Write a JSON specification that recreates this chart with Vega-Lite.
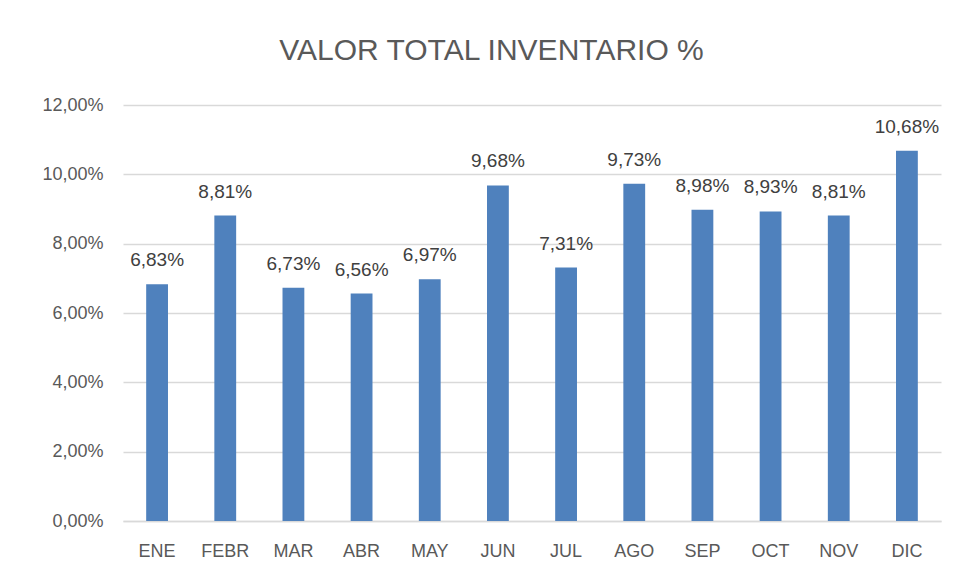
{
  "$schema": "https://vega.github.io/schema/vega-lite/v6.json",
  "width": 818,
  "height": 416,
  "autosize": "none",
  "padding": {"left": 123, "top": 105, "right": 22, "bottom": 57},
  "background": "white",
  "title": {
    "text": "VALOR TOTAL INVENTARIO %",
    "font": "Liberation Sans",
    "fontSize": 30,
    "fontWeight": "normal",
    "color": "#595959",
    "anchor": "middle",
    "frame": "bounds",
    "offset": 30
  },
  "data": {
    "values": [
      {"mes": "ENE", "valor": 0.0683},
      {"mes": "FEBR", "valor": 0.0881},
      {"mes": "MAR", "valor": 0.0673},
      {"mes": "ABR", "valor": 0.0656},
      {"mes": "MAY", "valor": 0.0697},
      {"mes": "JUN", "valor": 0.0968},
      {"mes": "JUL", "valor": 0.0731},
      {"mes": "AGO", "valor": 0.0973},
      {"mes": "SEP", "valor": 0.0898},
      {"mes": "OCT", "valor": 0.0893},
      {"mes": "NOV", "valor": 0.0881},
      {"mes": "DIC", "valor": 0.1068}
    ]
  },
  "encoding": {
    "x": {
      "field": "mes",
      "type": "nominal",
      "sort": null,
      "title": null,
      "scale": {"paddingInner": 0.68, "paddingOuter": 0.34},
      "axis": {
        "labelAngle": 0,
        "labelFont": "Liberation Sans",
        "labelFontSize": 18,
        "labelColor": "#595959",
        "labelPadding": 21,
        "ticks": false,
        "domainColor": "#D9D9D9",
        "domainWidth": 1.5
      }
    },
    "y": {
      "field": "valor",
      "type": "quantitative",
      "title": null,
      "scale": {"domain": [0, 0.12], "nice": false},
      "axis": {
        "values": [0, 0.02, 0.04, 0.06, 0.08, 0.1, 0.12],
        "format": ".2%",
        "labelFont": "Liberation Sans",
        "labelFontSize": 18,
        "labelColor": "#595959",
        "labelPadding": 20,
        "ticks": false,
        "domain": false,
        "gridColor": "#D9D9D9",
        "gridWidth": 1.5
      }
    }
  },
  "layer": [
    {"mark": {"type": "bar", "color": "#4F81BD"}},
    {
      "mark": {
        "type": "text",
        "baseline": "bottom",
        "dy": -14,
        "font": "Liberation Sans",
        "fontSize": 19,
        "color": "#404040"
      },
      "encoding": {"text": {"field": "valor", "type": "quantitative", "format": ".2%"}}
    }
  ],
  "config": {
    "view": {"stroke": null},
    "locale": {
      "number": {"decimal": ",", "thousands": ".", "grouping": [3], "currency": ["", " €"]}
    }
  }
}
